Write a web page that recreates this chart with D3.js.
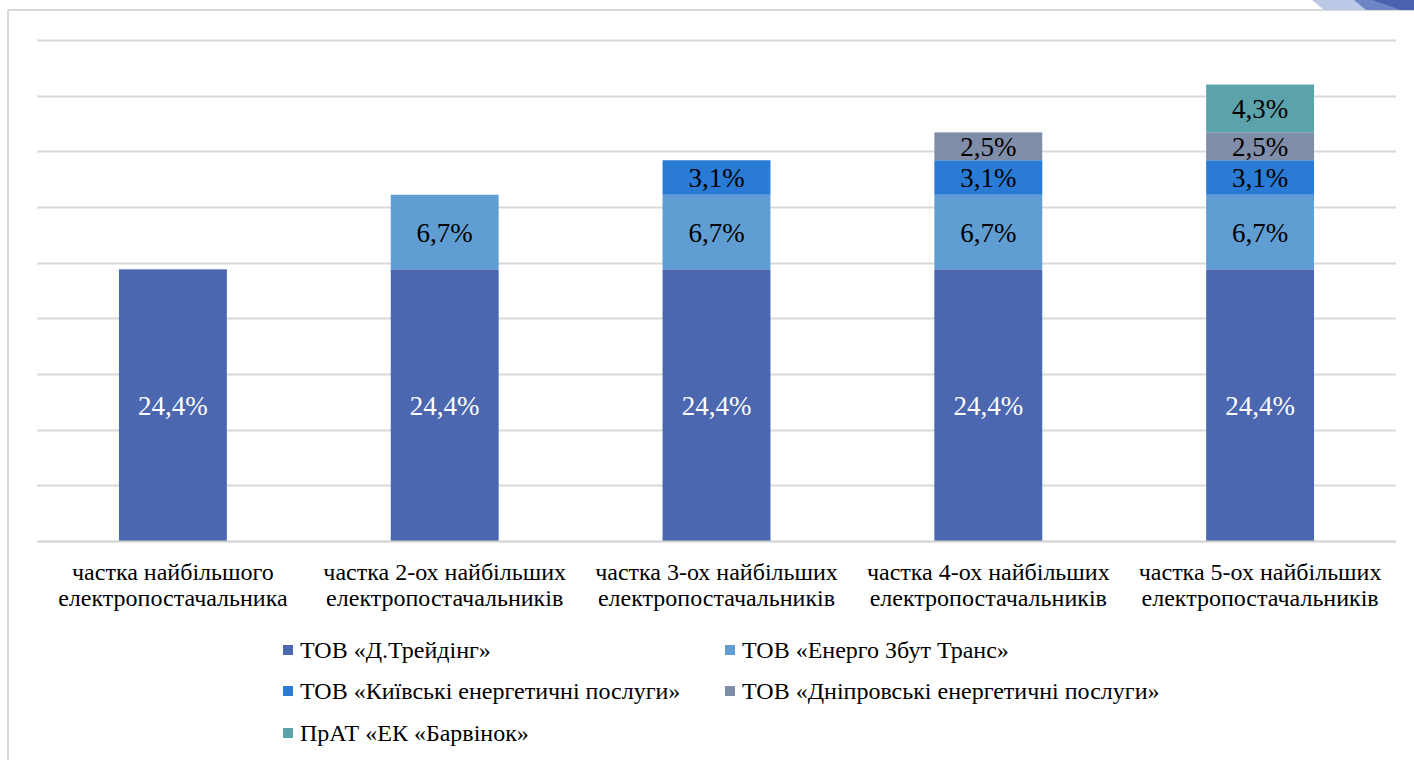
<!DOCTYPE html>
<html><head><meta charset="utf-8">
<script src="https://cdn.jsdelivr.net/npm/d3@7/dist/d3.min.js"></script>
<style>html,body{margin:0;padding:0;background:#fff;}svg{display:block;}
text{font-family:"Liberation Serif","Times New Roman",Tinos,"DejaVu Serif","Noto Serif","FreeSerif","Nimbus Roman",serif;}</style>
</head><body>
<svg id="chart" width="1414" height="760"></svg>
<script>
const categories = [
  ["частка найбільшого", "електропостачальника"],
  ["частка 2-ох найбільших", "електропостачальників"],
  ["частка 3-ох найбільших", "електропостачальників"],
  ["частка 4-ох найбільших", "електропостачальників"],
  ["частка 5-ох найбільших", "електропостачальників"]
];
const seriesNames = [
  "ТОВ «Д.Трейдінг»",
  "ТОВ «Енерго Збут Транс»",
  "ТОВ «Київські енергетичні послуги»",
  "ТОВ «Дніпровські енергетичні послуги»",
  "ПрАТ «ЕК «Барвінок»"
];
const dTrading  = [24.4, 24.4, 24.4, 24.4, 24.4];
const energoZbut = [0, 6.7, 6.7, 6.7, 6.7];
const kyivEnergy = [0, 0, 3.1, 3.1, 3.1];
const dniproEnergy = [0, 0, 0, 2.5, 2.5];
const barvinok = [0, 0, 0, 0, 4.3];
const seriesValues = [dTrading, energoZbut, kyivEnergy, dniproEnergy, barvinok];
const yTicks = [0, 5, 10, 15, 20, 25, 30, 35, 40, 45];
const colors = ["#4A67B0", "#5F9DD3", "#2A7BD6", "#7F8DA8", "#5BA2AA"];
const labelColors = ["#ffffff", "#000000", "#000000", "#000000", "#000000"];

const svg = d3.select("#chart");

// frame
svg.append("line").attr("x1", 8).attr("x2", 1414).attr("y1", 10).attr("y2", 10)
  .attr("stroke", "#d9d9d9").attr("stroke-width", 2);
svg.append("line").attr("x1", 8).attr("x2", 8).attr("y1", 10).attr("y2", 760)
  .attr("stroke", "#d9d9d9").attr("stroke-width", 2);
// top-right decoration
svg.append("polygon").attr("points", "1312,0 1362,0 1372,10 1324,10").attr("fill", "#BCC8E6");
svg.append("polygon").attr("points", "1354,0 1414,0 1414,10 1366,10").attr("fill", "#6F86C6");
svg.append("path").attr("d", "M1372,0 L1414,0 L1414,10 L1400,10 Q1385,4 1372,0 Z").attr("fill", "#4A63AE");

const x = d3.scaleBand().domain(d3.range(categories.length))
  .range([37, 1396]).paddingInner(0.603).paddingOuter(0.3015);
const y = d3.scaleLinear().domain([0, 45]).range([541, 40]);

// gridlines
svg.append("g").selectAll("line").data(yTicks.filter(t => t > 0)).join("line")
  .attr("x1", 37).attr("x2", 1396)
  .attr("y1", d => Math.round(y(d)) + 0.5).attr("y2", d => Math.round(y(d)) + 0.5)
  .attr("stroke", "#d9d9d9").attr("stroke-width", 2);

// stacked data
const stackData = categories.map((c, i) => {
  const o = {i};
  seriesValues.forEach((s, k) => o["s" + k] = s[i]);
  return o;
});
const stack = d3.stack().keys(seriesValues.map((s, k) => "s" + k))(stackData);

const layers = svg.append("g").selectAll("g").data(stack).join("g")
  .attr("fill", (d, k) => colors[k]);
layers.selectAll("rect").data(d => d.filter(p => p[1] - p[0] > 0)).join("rect")
  .attr("x", p => x(p.data.i))
  .attr("width", x.bandwidth())
  .attr("y", p => y(p[1]))
  .attr("height", p => y(p[0]) - y(p[1]));

// labels
stack.forEach((layer, k) => {
  svg.append("g").selectAll("text").data(layer.filter(p => p[1] - p[0] > 0)).join("text")
    .attr("x", p => x(p.data.i) + x.bandwidth() / 2)
    .attr("y", p => (y(p[0]) + y(p[1])) / 2)
    .attr("dy", "0.35em")
    .attr("text-anchor", "middle")
    .attr("font-size", 27)
    .attr("fill", labelColors[k])
    .text(p => d3.format(".1f")(p[1] - p[0]).replace(".", ",") + "%");
});

// baseline
svg.append("line").attr("x1", 37).attr("x2", 1396).attr("y1", y(0) + 0.5).attr("y2", y(0) + 0.5)
  .attr("stroke", "#d0d0d0").attr("stroke-width", 2);

// category labels
const catG = svg.append("g").selectAll("text").data(categories).join("text")
  .attr("x", (d, i) => x(i) + x.bandwidth() / 2)
  .attr("y", 580)
  .attr("text-anchor", "middle")
  .attr("font-size", 24).attr("fill", "#000");
catG.selectAll("tspan").data(d => d).join("tspan")
  .attr("x", function() { return this.parentNode.getAttribute("x"); })
  .attr("dy", (d, j) => j === 0 ? 0 : 26)
  .text(d => d);

// legend
const legendPos = [[283, 650], [725, 650], [283, 691], [725, 691], [283, 733]];
const lg = svg.append("g").selectAll("g").data(seriesNames).join("g")
  .attr("transform", (d, k) => `translate(${legendPos[k][0]},${legendPos[k][1]})`);
lg.append("rect").attr("x", 0).attr("y", -5).attr("width", 10).attr("height", 10)
  .attr("fill", (d, k) => colors[k]);
lg.append("text").attr("x", 17).attr("dy", "0.35em")
  .attr("font-size", 24).attr("fill", "#000")
  .text(d => d);
</script>
</body></html>
